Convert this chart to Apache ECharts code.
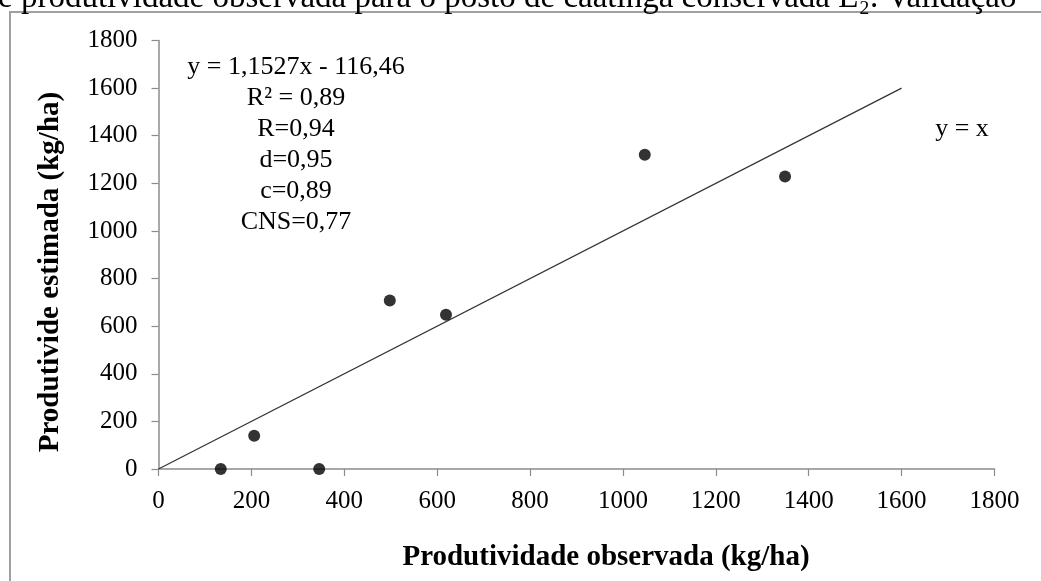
<!DOCTYPE html>
<html>
<head>
<meta charset="utf-8">
<script src="https://cdn.jsdelivr.net/npm/echarts@6/dist/echarts.min.js"></script>
<style>
  html, body { margin: 0; padding: 0; background: #fff; }
  #chart { width: 1041px; height: 581px; }
</style>
</head>
<body>
<div id="chart"></div>
<script>
// Observed vs. estimated productivity (kg/ha)
const observed  = [134, 206, 346, 498, 619, 1047, 1349];
const estimated = [0, 140, 0, 708, 648, 1320, 1229];

// 1:1 reference line
const identityX = [0, 1600];
const identityY = [0, 1600];

const statsLines = [
  'y = 1,1527x - 116,46',
  'R\u00b2 = 0,89',
  'R=0,94',
  'd=0,95',
  'c=0,89',
  'CNS=0,77'
];

const xTitle = 'Produtividade observada (kg/ha)';
const yTitle = 'Produtivide estimada (kg/ha)';
const captionText = 'e produtividade observada para o posto de caatinga conservada E\u2082. Validação';

const serif = '"Liberation Serif", "DejaVu Serif", serif';
const axisGray = '#8c8c8c';

const chart = echarts.init(document.getElementById('chart'), null, { renderer: 'canvas' });

const points = observed.map((x, i) => [x, estimated[i]]);
const identity = identityX.map((x, i) => [x, identityY[i]]);

const axisCommon = {
  type: 'value',
  min: 0,
  max: 1800,
  interval: 200,
  splitLine: { show: false },
  axisLine: { show: true, lineStyle: { color: axisGray, width: 1.5 } },
  axisTick: { show: true, length: 7, lineStyle: { color: axisGray, width: 1.2 } },
  axisLabel: {
    color: '#000', fontFamily: serif, fontSize: 25,
    formatter: v => String(v)
  }
};

chart.setOption({
  animation: false,
  backgroundColor: '#fff',
  grid: { left: 158.5, right: 46.5, top: 40.5, bottom: 112, containLabel: false },
  xAxis: Object.assign({}, axisCommon, {
    axisLabel: Object.assign({}, axisCommon.axisLabel, { margin: 20 })
  }),
  yAxis: Object.assign({}, axisCommon, {
    axisLabel: Object.assign({}, axisCommon.axisLabel, { margin: 21 })
  }),
  series: [
    {
      type: 'line',
      data: identity,
      symbol: 'none',
      lineStyle: { color: '#333', width: 1.2 },
      silent: true,
      z: 2
    },
    {
      type: 'scatter',
      data: points,
      symbol: 'circle',
      symbolSize: 12,
      itemStyle: { color: '#000' },
      z: 3
    }
  ],
  graphic: [
    // chart frame
    {
      type: 'polyline',
      shape: { points: [[10, 600], [10, 12], [1060, 12]] },
      style: { stroke: '#a0a0a0', lineWidth: 2, fill: null },
      z: 10
    },
    // text line above the frame
    {
      type: 'text',
      style: {
        x: -2, y: 15,
        text: captionText,
        font: '33px ' + serif,
        fill: '#000',
        textAlign: 'left',
        textVerticalAlign: 'bottom'
      },
      z: 10
    },
    // regression statistics block
    {
      type: 'text',
      style: {
        x: 296, y: 52,
        text: statsLines.join('\n'),
        font: '26px ' + serif,
        lineHeight: 31,
        fill: '#000',
        textAlign: 'center',
        textVerticalAlign: 'top'
      },
      z: 10
    },
    // identity line label
    {
      type: 'text',
      style: {
        x: 962, y: 129,
        text: 'y = x',
        font: '26px ' + serif,
        fill: '#000',
        textAlign: 'center',
        textVerticalAlign: 'middle'
      },
      z: 10
    },
    // x axis title
    {
      type: 'text',
      style: {
        x: 606, y: 558,
        text: xTitle,
        font: 'bold 29px ' + serif,
        fill: '#000',
        textAlign: 'center',
        textVerticalAlign: 'middle'
      },
      z: 10
    },
    // y axis title
    {
      type: 'text',
      x: 51, y: 272,
      rotation: Math.PI / 2,
      style: {
        x: 0, y: 0,
        text: yTitle,
        font: 'bold 29px ' + serif,
        fill: '#000',
        textAlign: 'center',
        textVerticalAlign: 'middle'
      },
      z: 10
    }
  ]
});
</script>
</body>
</html>
